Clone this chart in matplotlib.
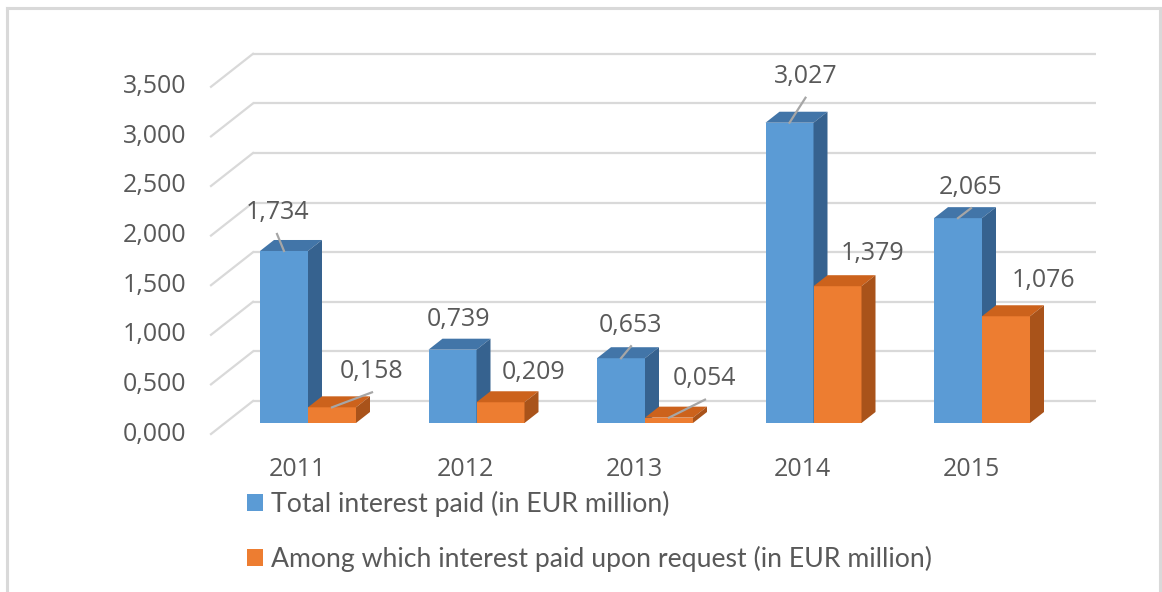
import matplotlib
matplotlib.use("Agg")
import matplotlib.pyplot as plt
from matplotlib.patches import Polygon
from matplotlib.lines import Line2D

# ---- data ----
years = ["2011", "2012", "2013", "2014", "2015"]
total_paid = [1.734, 0.739, 0.653, 3.027, 2.065]
paid_on_request = [0.158, 0.209, 0.054, 1.379, 1.076]
series_names = ["Total interest paid (in EUR million)",
                "Among which interest paid upon request (in EUR million)"]
y_ticks = [0.0, 0.5, 1.0, 1.5, 2.0, 2.5, 3.0, 3.5]

# ---- layout (pixel geometry of the 1162x592 canvas) ----
W, H = 1162, 592
X0, PITCH = 308.0, 168.5      # px of first group centre, px between groups
Y0, YS = 423.0, 99.2          # px of value 0 (bar front), px per unit
BAR_W = 48.0 / PITCH
DEP_X, DEP_Y = 14.0 / PITCH, 11.0 / YS      # bar depth
BACK_X, BACK_Y = 253.0, 22.0 / YS           # back wall
FRONT_X, FRONT_Y = 211.0, -11.0 / YS        # front floor edge
GRID_END = 1096.0

def px_x(p):
    return (p - X0) / PITCH

TXT = "#595959"
GRID = "#D9D9D9"
FONT = "Open Sans"
FS = 18

fig = plt.figure(figsize=(W / 100, H / 100), dpi=100)
ax = fig.add_axes([0, 0, 1, 1])
ax.set_xlim(px_x(0), px_x(W))
ax.set_ylim(-(H - Y0) / YS, Y0 / YS)
ax.axis("off")

# gridlines: back wall + left diagonal
for v in y_ticks:
    ax.plot([px_x(BACK_X), px_x(GRID_END)], [v + BACK_Y, v + BACK_Y],
            color=GRID, lw=1.6, zorder=1, solid_capstyle="butt")
    ax.plot([px_x(FRONT_X), px_x(BACK_X)], [v + FRONT_Y, v + BACK_Y],
            color=GRID, lw=1.6, zorder=1)
    ax.text(px_x(186), v + FRONT_Y, f"{v:,.3f}".replace(".", ","),
            ha="right", va="center", fontsize=FS, color=TXT, family=FONT)

cols = [("#5B9BD5", "#4275A8", "#36628F"), ("#ED7D31", "#CC621C", "#A9531A")]
xs = list(range(len(years)))
series = [total_paid, paid_on_request]
offsets = [-BAR_W / 2, BAR_W / 2]

handles = []
for s, (vals, (front, top, side)) in enumerate(zip(series, cols)):
    xpos = [x + offsets[s] for x in xs]
    bars = ax.bar(xpos, vals, width=BAR_W, color=front, zorder=2 + s, linewidth=0)
    handles.append(bars)
    for rect in bars:
        x0 = rect.get_x()
        x1 = x0 + rect.get_width()
        v = rect.get_height()
        ax.add_patch(Polygon([(x0, v), (x1, v), (x1 + DEP_X, v + DEP_Y), (x0 + DEP_X, v + DEP_Y)],
                             closed=True, facecolor=top, edgecolor="none", zorder=2.5 + s))
        ax.add_patch(Polygon([(x1, 0), (x1, v), (x1 + DEP_X, v + DEP_Y), (x1 + DEP_X, DEP_Y)],
                             closed=True, facecolor=side, edgecolor="none", zorder=2.5 + s))

# data labels (pixel offsets from bar top-front centre) and leader lines
label_off = [
    [(-7, -38), (6, -30), (10, -33), (16, -46), (13, -31)],
    [(40, -36), (33, -30), (36, -39), (35, -33), (38, -36)],
]
leader = [
    [True, False, True, True, True],
    [True, False, True, False, False],
]
for s, vals in enumerate(series):
    for i, v in enumerate(vals):
        bx = i + offsets[s]
        dx, dy = label_off[s][i]
        lx = bx + dx / PITCH
        ly = v - dy / YS
        ax.text(lx, ly, f"{v:.3f}".replace(".", ","), ha="center", va="center",
                fontsize=FS, color=TXT, family=FONT, zorder=6)
        if leader[s][i]:
            ax.plot([bx, lx], [v, ly - 21 / YS], color="#A6A6A6", lw=1.6, zorder=5)

# category labels
for i, yr in enumerate(years):
    ax.text(i - 11 / PITCH, (Y0 - 470) / YS, yr, ha="center", va="center",
            fontsize=FS, color=TXT, family=FONT)

# legend
leg = fig.legend(handles, series_names, loc="upper left",
                 bbox_to_anchor=(236 / W, 1 - 480 / H), frameon=False,
                 prop={"family": "Lato", "size": 19.2}, labelcolor=TXT,
                 handlelength=0.6, handleheight=0.6, handletextpad=0.3,
                 labelspacing=1.1, borderaxespad=0)

# outer frame (left, top, right)
fig.add_artist(Line2D([7 / W, 7 / W], [0, 1 - 8 / H], color="#D9D9D9", lw=2.2))
fig.add_artist(Line2D([7 / W, 1160 / W], [1 - 8 / H, 1 - 8 / H], color="#D9D9D9", lw=2.2))
fig.add_artist(Line2D([1160 / W, 1160 / W], [0, 1 - 8 / H], color="#D9D9D9", lw=2.2))

fig.savefig("out.png", dpi=100, facecolor="white")
